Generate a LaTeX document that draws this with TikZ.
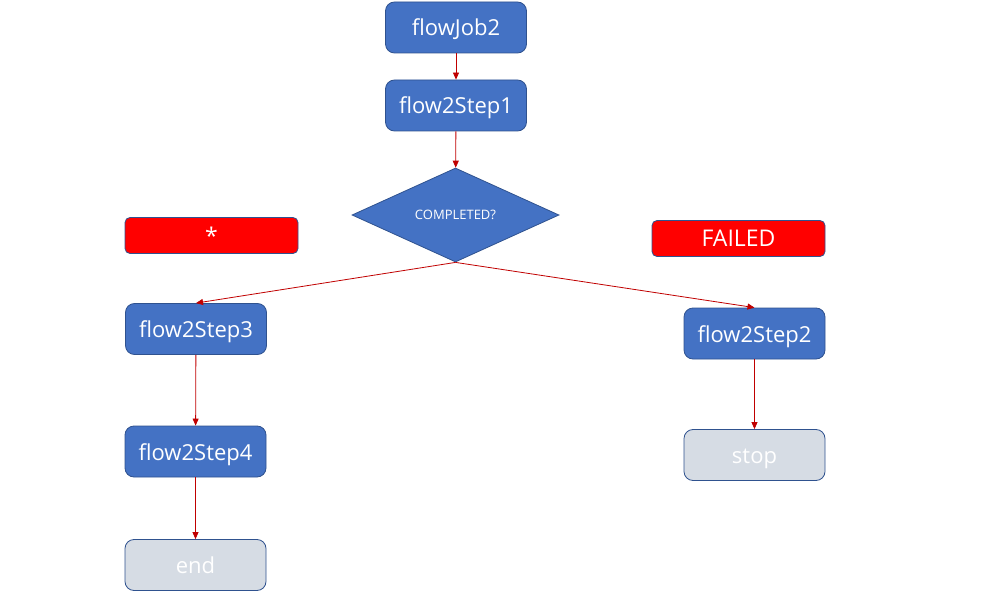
\documentclass[tikz,border=0pt]{standalone}
\usepackage{fontspec}
\setmainfont{Open Sans}
\usetikzlibrary{shapes.geometric,arrows.meta}
\definecolor{bluefill}{HTML}{4472C4}
\definecolor{blueline}{HTML}{2F528F}
\definecolor{grayfill}{HTML}{D6DCE4}
\definecolor{arrowred}{HTML}{C00000}
\tikzset{
  box/.style={draw=blueline, line width=0.8pt, rounded corners=9pt, fill=bluefill, text=white,
    minimum width=141pt, minimum height=51pt, font=\fontsize{22}{24}\selectfont, inner sep=0pt,
    text height=17pt, text depth=0pt},
  graybox/.style={box, fill=grayfill},
  redbox/.style={draw=blueline, line width=0.8pt, rounded corners=5pt, fill=red, text=white,
    minimum width=173pt, minimum height=36pt, font=\fontsize{23}{25}\selectfont, inner sep=0pt},
  decision/.style={diamond, draw=blueline, line width=0.8pt, fill=bluefill, text=white,
    minimum width=207pt, minimum height=94pt, inner sep=0pt, aspect=2.2, font=\fontsize{13}{15}\selectfont},
  conn/.style={draw=arrowred, line width=0.8pt, -{Triangle[length=7pt,width=6pt]}}
}
\begin{document}
\begin{tikzpicture}[x=1pt,y=-1pt]
\useasboundingbox (0,0) rectangle (991,615);
\node[box] (job) at (456,27.5) {flowJob2};
\node[box] (s1) at (456,105.5) {flow2Step1};
\node[decision] (dec) at (455.5,215) {COMPLETED?};
\node[redbox] (star) at (211.5,235.5) {*};
\node[redbox] (failed) at (738.5,238.5) {FAILED};
\node[box] (s3) at (196,329) {flow2Step3};
\node[box] (s2) at (754.5,333.5) {flow2Step2};
\node[box] (s4) at (195.5,451.5) {flow2Step4};
\node[graybox] (end) at (195.5,565) {end};
\node[graybox] (stop) at (754.5,455) {stop};
\draw[conn] (job) -- (s1);
\draw[conn] (s1) -- (dec);
\draw[conn] (dec.south) -- (s3.north);
\draw[conn] (dec.south) -- (s2.north);
\draw[conn] (s3) -- (s4);
\draw[conn] (s4) -- (end);
\draw[conn] (s2) -- (stop);
\end{tikzpicture}
\end{document}
